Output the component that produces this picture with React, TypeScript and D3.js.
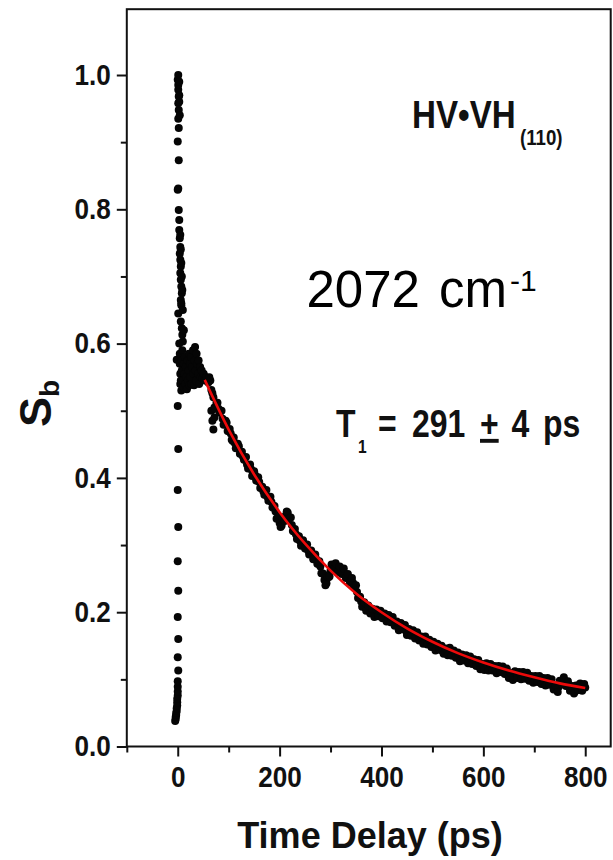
import React, { useEffect, useRef } from 'react'
import * as d3 from 'd3'

const FONT = "'Liberation Sans', Arial, Helvetica, sans-serif"

// axis ticks
const xMajorTicks = [0, 200, 400, 600, 800]
const xMinorTicks = [-100, 100, 300, 500, 700]
const yMajorTicks = [0, 0.2, 0.4, 0.6, 0.8, 1.0]
const yMinorTicks = [0.1, 0.3, 0.5, 0.7, 0.9]

// rise around zero delay (ps, Sb)
const riseTimes = [
  -5, -4, -4, -3, -3, -2, -2, -1, -1, -1,
  0, 0, 0, 0, 1, 0, 1, 0, 1, 0,
  1, 0, 1, 0, -2,
  10, 9, 8, 6, 1, 7, 6, 8, 7, 6,
  5, 6, 5, 4, 5, 4, 3, 3, 2, 0,
  1, 2, 0, 2, 1, 2, 1, 2, 1, 1,
  0, 1, 3, 3, 4, 3, 5, 6, 7, 8,
  9, 7, 10, 12,
]
const riseValues = [
  0.038, 0.041, 0.044, 0.047, 0.05, 0.053, 0.057, 0.061, 0.066, 0.071,
  0.076, 0.082, 0.089, 0.097, 0.113, 0.133, 0.16, 0.193, 0.232, 0.276,
  0.327, 0.382, 0.443, 0.507, 0.576,
  0.603, 0.613, 0.623, 0.633, 0.645, 0.657, 0.665, 0.675, 0.685, 0.695,
  0.705, 0.715, 0.725, 0.734, 0.744, 0.757, 0.769, 0.784, 0.799, 0.829,
  0.831, 0.873, 0.901, 0.921, 0.935, 0.948, 0.958, 0.968, 0.978, 0.985,
  0.993, 1.0, 0.96, 0.99, 0.94, 0.97, 0.762, 0.74, 0.72, 0.7,
  0.68, 0.66, 0.65, 0.62,
]

// noisy plateau just after the rise
const clusterTimes = [
  3, 4, 4, 5, 5, 6, 7, 8, 8, 9,
  10, 11, 12, 13, 14, 15, 16, 17, 18, 19,
  20, 21, 22, 23, 24, 25, 26, 27, 28, 30,
  31, 32, 33, 34, 35, 36, 37, 38, 40, 41,
  42, 44, 45, 47, 49, 51, 53, 56, 66, 68,
  70, 72,
]
const clusterValues = [
  0.6, 0.585, 0.57, 0.555, 0.54, 0.545, 0.53, 0.56, 0.575, 0.59,
  0.545, 0.535, 0.57, 0.555, 0.58, 0.54, 0.565, 0.55, 0.532, 0.575,
  0.545, 0.56, 0.585, 0.538, 0.57, 0.55, 0.58, 0.54, 0.565, 0.59,
  0.555, 0.538, 0.575, 0.595, 0.56, 0.545, 0.585, 0.57, 0.555, 0.575,
  0.54, 0.565, 0.55, 0.56, 0.548, 0.555, 0.545, 0.55, 0.5, 0.485,
  0.472, 0.49,
]

// decay, scan A: every 4 ps from 60 to 800 ps
const decayTimesA = d3.range(60, 801, 4)
const decayValuesA = [
  0.542, 0.545, 0.526, 0.505, 0.512, 0.503, 0.499, 0.488, 0.48, 0.482,
  0.47, 0.466, 0.455, 0.452, 0.446, 0.447, 0.436, 0.432, 0.43, 0.42,
  0.418, 0.413, 0.405, 0.404, 0.396, 0.394, 0.386, 0.38, 0.381, 0.372,
  0.368, 0.364, 0.358, 0.35, 0.34, 0.333, 0.329, 0.338, 0.344, 0.348,
  0.341, 0.33, 0.32, 0.316, 0.312, 0.306, 0.303, 0.3, 0.297, 0.292,
  0.29, 0.286, 0.283, 0.279, 0.272, 0.268, 0.258, 0.248, 0.243, 0.252,
  0.262, 0.268, 0.27, 0.268, 0.264, 0.262, 0.26, 0.257, 0.254, 0.252,
  0.248, 0.244, 0.238, 0.23, 0.222, 0.216, 0.212, 0.207, 0.205, 0.203,
  0.202, 0.2, 0.198, 0.199, 0.197, 0.195, 0.196, 0.192, 0.191, 0.19,
  0.188, 0.185, 0.184, 0.18, 0.178, 0.18, 0.177, 0.172, 0.17, 0.172,
  0.17, 0.166, 0.163, 0.165, 0.161, 0.158, 0.16, 0.157, 0.154, 0.152,
  0.153, 0.15, 0.147, 0.149, 0.146, 0.142, 0.143, 0.14, 0.143, 0.14,
  0.137, 0.136, 0.138, 0.134, 0.131, 0.133, 0.131, 0.128, 0.129, 0.131,
  0.127, 0.123, 0.124, 0.121, 0.118, 0.119, 0.12, 0.118, 0.116, 0.118,
  0.117, 0.115, 0.114, 0.116, 0.114, 0.112, 0.113, 0.11, 0.105, 0.102,
  0.104, 0.107, 0.106, 0.107, 0.105, 0.106, 0.103, 0.104, 0.101, 0.1,
  0.101, 0.099, 0.1, 0.098, 0.097, 0.098, 0.096, 0.097, 0.095, 0.092,
  0.088, 0.085, 0.089, 0.096, 0.098, 0.096, 0.094, 0.091, 0.086, 0.083,
  0.082, 0.087, 0.09, 0.089, 0.088, 0.088,
]

// decay, scan B: every 4 ps from 62 to 798 ps
const decayTimesB = d3.range(62, 799, 4)
const decayValuesB = [
  0.55, 0.531, 0.52, 0.503, 0.512, 0.497, 0.5, 0.479, 0.485, 0.47,
  0.473, 0.457, 0.46, 0.444, 0.451, 0.436, 0.439, 0.427, 0.431, 0.414,
  0.42, 0.403, 0.41, 0.396, 0.401, 0.385, 0.387, 0.375, 0.382, 0.366,
  0.372, 0.356, 0.358, 0.339, 0.342, 0.327, 0.34, 0.336, 0.35, 0.339,
  0.341, 0.321, 0.324, 0.309, 0.313, 0.299, 0.307, 0.295, 0.301, 0.286,
  0.292, 0.279, 0.286, 0.272, 0.276, 0.258, 0.257, 0.24, 0.253, 0.253,
  0.271, 0.264, 0.273, 0.26, 0.268, 0.257, 0.265, 0.251, 0.257, 0.244,
  0.251, 0.237, 0.24, 0.221, 0.223, 0.208, 0.215, 0.202, 0.21, 0.198,
  0.205, 0.193, 0.204, 0.194, 0.202, 0.191, 0.198, 0.186, 0.196, 0.185,
  0.193, 0.18, 0.186, 0.173, 0.184, 0.175, 0.181, 0.166, 0.175, 0.165,
  0.173, 0.161, 0.17, 0.158, 0.164, 0.153, 0.164, 0.152, 0.159, 0.148,
  0.156, 0.143, 0.153, 0.144, 0.15, 0.138, 0.146, 0.136, 0.147, 0.135,
  0.143, 0.132, 0.14, 0.127, 0.137, 0.128, 0.136, 0.124, 0.134, 0.123,
  0.13, 0.12, 0.129, 0.115, 0.123, 0.114, 0.124, 0.113, 0.123, 0.113,
  0.12, 0.109, 0.12, 0.111, 0.119, 0.108, 0.116, 0.102, 0.109, 0.099,
  0.112, 0.102, 0.111, 0.1, 0.111, 0.101, 0.11, 0.098, 0.105, 0.095,
  0.105, 0.096, 0.105, 0.093, 0.102, 0.091, 0.102, 0.092, 0.1, 0.085,
  0.091, 0.081, 0.098, 0.093, 0.103, 0.09, 0.097, 0.083, 0.09, 0.079,
  0.091, 0.084, 0.094, 0.083, 0.093,
]

// single exponential fit (red)
const fitTimes = [53, 100, 150, 200, 250, 300, 350, 400, 450, 500, 550, 600, 650, 700, 750, 800]
const fitValues = [0.546, 0.472, 0.405, 0.349, 0.302, 0.262, 0.228, 0.2, 0.176, 0.156, 0.139, 0.125, 0.113, 0.103, 0.094, 0.087]

export default function App() {
  const plotRef = useRef<SVGGElement>(null)

  useEffect(() => {
    const g = d3.select(plotRef.current)
    g.selectAll('*').remove()

    const x = d3.scaleLinear().domain([-100, 850]).range([126.8, 610.7])
    const y = d3.scaleLinear().domain([0, 1.098]).range([746.5, 9.2])

    const points = [
      ...riseTimes.map((t, i) => ({ t, v: riseValues[i] })),
      ...clusterTimes.map((t, i) => ({ t, v: clusterValues[i] })),
      ...decayTimesA.map((t, i) => ({ t, v: decayValuesA[i] })),
      ...decayTimesB.map((t, i) => ({ t, v: decayValuesB[i] })),
    ]

    const styleAxis = (sel: any) => {
      sel.select('.domain').remove()
      sel.attr('font-family', FONT).attr('font-size', 29).attr('font-weight', 'bold')
      sel.selectAll('line').attr('stroke', '#111').attr('stroke-width', 2)
      sel.selectAll('text').attr('fill', '#111')
    }

    // minor ticks
    g.append('g')
      .attr('transform', `translate(0,${y(0)})`)
      .call(d3.axisBottom(x).tickValues(xMinorTicks).tickSize(6).tickFormat(() => ''))
      .call(styleAxis)
    g.append('g')
      .attr('transform', `translate(${x(-100)},0)`)
      .call(d3.axisLeft(y).tickValues(yMinorTicks).tickSize(6).tickFormat(() => ''))
      .call(styleAxis)

    // major ticks
    const xAxis = g.append('g')
      .attr('transform', `translate(0,${y(0)})`)
      .call(d3.axisBottom(x).tickValues(xMajorTicks).tickSize(10).tickPadding(10).tickFormat(d3.format('d')))
      .call(styleAxis)
    xAxis.selectAll('text').attr('transform', 'scale(0.9,1)')

    const yAxis = g.append('g')
      .attr('transform', `translate(${x(-100)},0)`)
      .call(d3.axisLeft(y).tickValues(yMajorTicks).tickSize(10).tickPadding(6).tickFormat(d3.format('.1f')))
      .call(styleAxis)
    yAxis.selectAll('text').attr('transform', 'scale(0.9,1)').attr('x', -16 / 0.9)

    // frame
    g.append('rect')
      .attr('x', x(-100))
      .attr('y', y(1.098))
      .attr('width', x(850) - x(-100))
      .attr('height', y(0) - y(1.098))
      .attr('fill', 'none')
      .attr('stroke', '#111')
      .attr('stroke-width', 2)

    // data
    g.append('g')
      .selectAll('circle')
      .data(points)
      .join('circle')
      .attr('cx', d => x(d.t))
      .attr('cy', d => y(d.v))
      .attr('r', 4)
      .attr('fill', '#050505')

    // fit
    const fit = fitTimes.map((t, i) => ({ t, v: fitValues[i] }))
    const line = d3.line<{ t: number; v: number }>()
      .x(d => x(d.t))
      .y(d => y(d.v))
      .curve(d3.curveMonotoneX)
    g.append('path')
      .datum(fit)
      .attr('d', line)
      .attr('fill', 'none')
      .attr('stroke', '#ec0a0a')
      .attr('stroke-width', 2.6)
  }, [])

  const t1 = 0.82
  const hv = 0.85

  return (
    <svg
      width={613}
      height={860}
      style={{ position: 'absolute', left: 0, top: 0, background: '#fff' }}
      fontFamily={FONT}
    >
      <rect width={613} height={860} fill="#fff" />
      <g ref={plotRef} />

      {/* axis titles */}
      <text x={370} y={848} textAnchor="middle" fontSize={36} fontWeight="bold" fill="#111">
        Time Delay (ps)
      </text>
      <text transform="translate(50.8,427) rotate(-90)" fontSize={45} fontWeight="bold" fill="#111">
        S<tspan dy={8} fontSize={28}>b</tspan>
      </text>

      {/* annotations */}
      <g transform={`translate(412,128.3) scale(${hv},1)`}>
        <text fontSize={39} fontWeight="bold" fill="#111">
          HV•VH<tspan dx={5} dy={17} fontSize={22}>(110)</tspan>
        </text>
      </g>

      <text y={307.3} fontSize={51} fill="#000">
        <tspan x={306.5}>2072</tspan>
        <tspan x={439}>cm</tspan>
        <tspan x={510} dy={-16} fontSize={30}>-1</tspan>
      </text>

      <g transform={`translate(0,436.7) scale(${t1},1)`}>
        <text fontSize={39} fontWeight="bold" fill="#111">
          <tspan x={336 / t1}>T</tspan>
          <tspan x={358 / t1} dy={16} fontSize={19}>1</tspan>
          <tspan x={378 / t1} dy={-16}>=</tspan>
          <tspan x={412 / t1}>291</tspan>
          <tspan x={480 / t1} textDecoration="underline">+</tspan>
          <tspan x={511.5 / t1}>4</tspan>
          <tspan x={543 / t1}>ps</tspan>
        </text>
      </g>
    </svg>
  )
}
